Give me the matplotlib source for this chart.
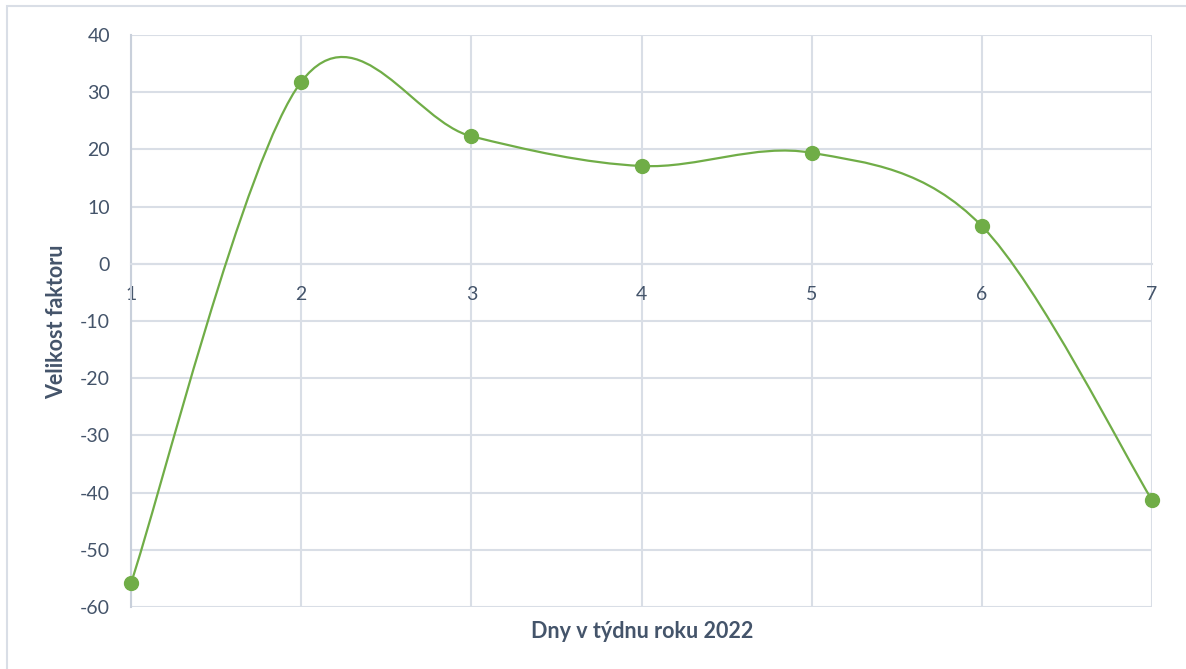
import matplotlib.pyplot as plt
from matplotlib.path import Path
from matplotlib.patches import PathPatch, Rectangle

# data
days = [1, 2, 3, 4, 5, 6, 7]
factor = [-55.8, 31.8, 22.3, 17.1, 19.4, 6.6, -41.3]
y_ticks = [-60, -50, -40, -30, -20, -10, 0, 10, 20, 30, 40]

# style
GREEN = "#70AD47"
TEXT = "#44546A"
GRID = "#D9DEE6"
FONT = "Lato"
plt.rcParams["axes.unicode_minus"] = False


def smooth_path(xs, ys, tension=1 / 6):
    """Cubic Bezier through every point (Catmull-Rom style, like a smoothed office line)."""
    pts = list(zip(xs, ys))
    n = len(pts)
    verts = [pts[0]]
    codes = [Path.MOVETO]
    for i in range(n - 1):
        p0 = pts[max(i - 1, 0)]
        p1 = pts[i]
        p2 = pts[i + 1]
        p3 = pts[min(i + 2, n - 1)]
        c1 = (p1[0] + (p2[0] - p0[0]) * tension, p1[1] + (p2[1] - p0[1]) * tension)
        c2 = (p2[0] - (p3[0] - p1[0]) * tension, p2[1] - (p3[1] - p1[1]) * tension)
        verts += [c1, c2, p2]
        codes += [Path.CURVE4] * 3
    return Path(verts, codes)


fig = plt.figure(figsize=(11.86, 6.69), dpi=100)
fig.patches.append(Rectangle((7 / 1186, -0.1), 1.2, 1 - 6 / 669 + 0.1,
                             transform=fig.transFigure, fill=False,
                             edgecolor=GRID, lw=1.5))

ax = fig.add_axes([131 / 1186, 62 / 669, 1021 / 1186, 572 / 669])
ax.set_xlim(1, 7)
ax.set_ylim(-60, 40)
ax.set_yticks(y_ticks)
ax.set_xticks(days)

ax.grid(True, color=GRID, lw=1.5)
ax.set_axisbelow(True)
for side in ["top", "right"]:
    ax.spines[side].set_visible(False)
ax.spines["left"].set_color("#C9D0DB")
ax.spines["left"].set_linewidth(1.5)
# x labels sit under the zero line
ax.spines["bottom"].set_position(("data", 0))
ax.spines["bottom"].set_color(GRID)
ax.spines["bottom"].set_linewidth(1.5)
ax.tick_params(length=0, labelcolor=TEXT, labelsize=14)
ax.tick_params(axis="x", pad=16)
ax.tick_params(axis="y", pad=15)
for lab in ax.get_xticklabels() + ax.get_yticklabels():
    lab.set_fontfamily(FONT)

ax.add_patch(PathPatch(smooth_path(days, factor), fill=False,
                       edgecolor=GREEN, lw=1.6, zorder=3))
ax.plot(days, factor, ls="none", marker="o", ms=10, color=GREEN,
        zorder=4, clip_on=False)

fig.text(642 / 1186, 1 - 631 / 669, "Dny v týdnu roku 2022", ha="center",
         va="center", fontsize=15.5, fontweight="bold", color=TEXT, family=FONT)
fig.text(57 / 1186, 1 - 322 / 669, "Velikost faktoru", ha="center",
         va="center", rotation=90, fontsize=15.5, fontweight="bold",
         color=TEXT, family=FONT)

fig.savefig("out.png", dpi=100, facecolor="white")
